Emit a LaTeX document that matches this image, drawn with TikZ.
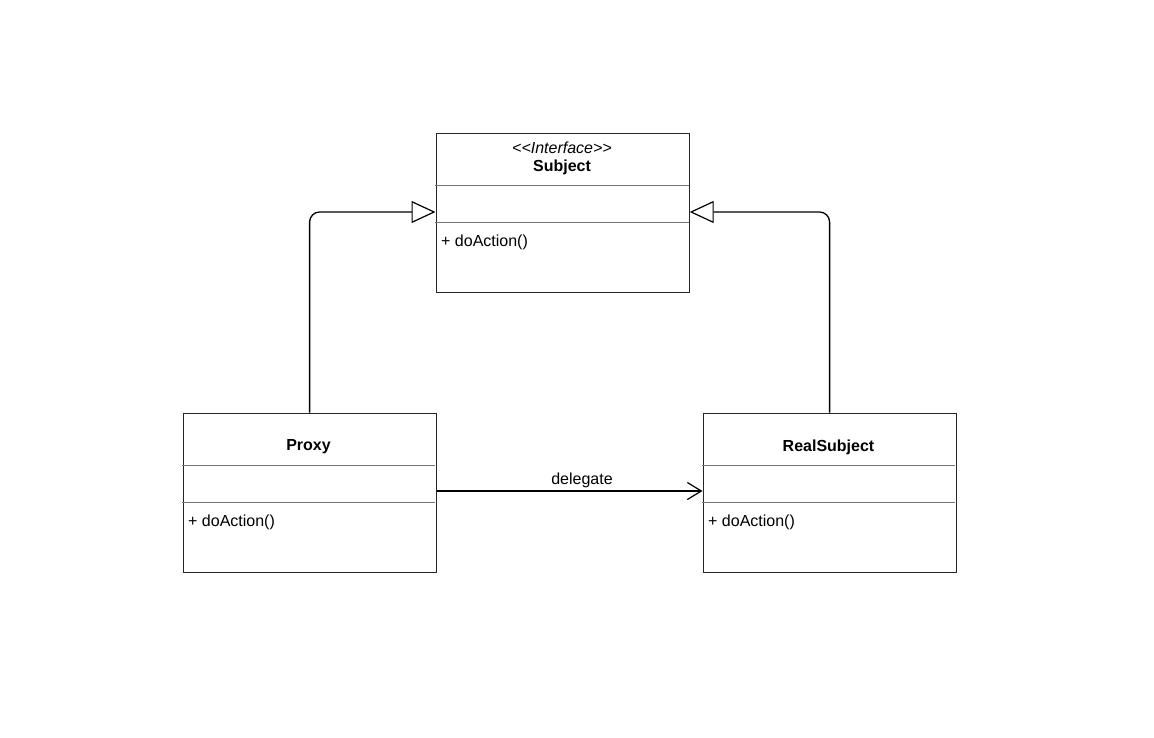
\documentclass[tikz,border=0pt]{standalone}
\usepackage{fontspec}
\setmainfont{Liberation Sans}
\usetikzlibrary{arrows.meta}
\begin{document}
\begin{tikzpicture}[x=1pt,y=-1pt,
  cls/.style={draw=black!85,line width=1.2pt,minimum width=253pt,minimum height=159pt,inner sep=0pt},
  divider/.style={draw=black!55,line width=0.7pt},
  txt/.style={font=\fontsize{16}{19}\selectfont,inner sep=0pt},
  gen/.style={draw=black,line width=1.3pt,rounded corners=10pt,-{Triangle[open,length=24pt,width=22pt,line width=1.2pt]}},
  dep/.style={draw=black,line width=1.3pt,-{Straight Barb[length=14pt,width=17pt,line width=1.2pt]}}]
\useasboundingbox (0,0) rectangle (1154,737);
% Subject
\node[cls,anchor=north west] (subj) at (435.5,132.5) {};
\draw[divider] (435,185) -- (689,185);
\draw[divider] (435,222) -- (689,222);
\node[txt] (subjst) at (562,148) {\textit{{<}{<}Interface{>}{>}}};
\node[txt] (subjn) at (562,167) {\textbf{Subject}};
\node[txt,anchor=west] (subjm) at (441,242) {+ doAction()};
% Proxy
\node[cls,anchor=north west] (proxy) at (182.5,412.5) {};
\draw[divider] (182,465) -- (435,465);
\draw[divider] (182,502) -- (435,502);
\node[txt] (proxyn) at (308.5,447) {\textbf{Proxy}};
\node[txt,anchor=west] (proxym) at (188,522) {+ doAction()};
% RealSubject
\node[cls,anchor=north west] (real) at (702.5,412.5) {};
\draw[divider] (702,465) -- (955,465);
\draw[divider] (702,502) -- (955,502);
\node[txt] (realn) at (828.5,447) {\textbf{RealSubject}};
\node[txt,anchor=west] (realm) at (708,522) {+ doAction()};
% connectors
\draw[gen] (proxy.north) -- (proxy.north |- 0,212) -- (subj.west |- 0,212);
\draw[gen] (real.north) -- (real.north |- 0,212) -- (subj.east |- 0,212);
\draw[dep] (proxy.east |- 0,491) -- (real.west |- 0,491);
\node[txt] (dl) at (582,480) {delegate};
\end{tikzpicture}
\end{document}
